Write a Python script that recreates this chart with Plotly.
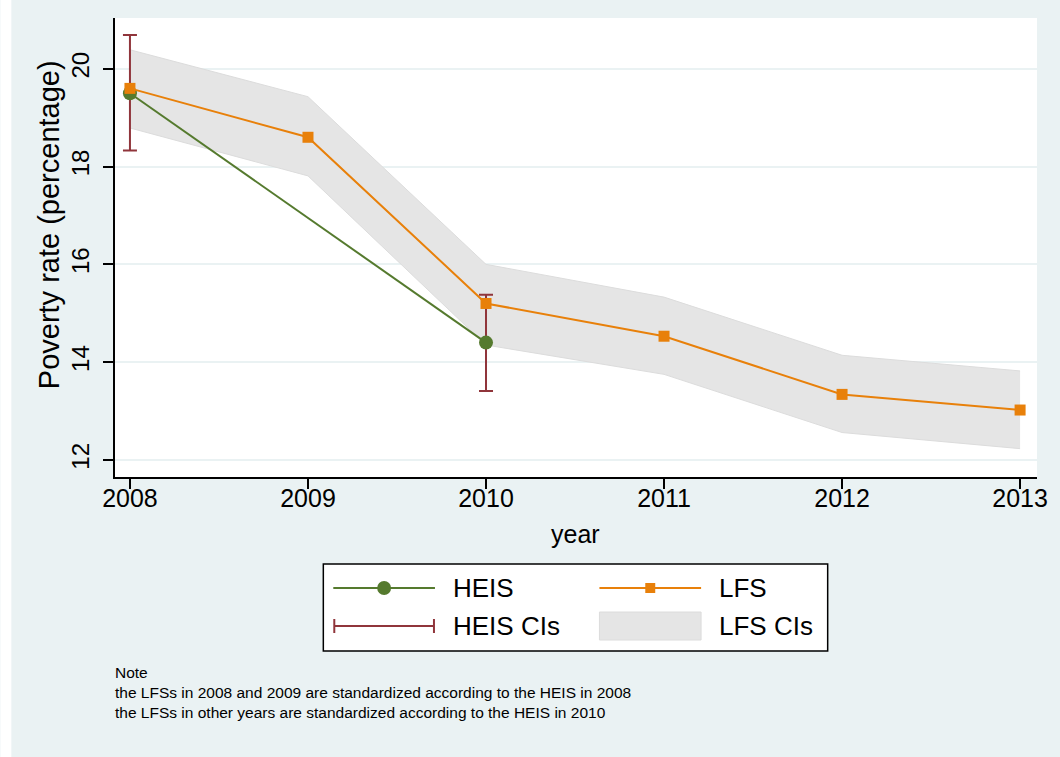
import plotly.graph_objects as go

# --- data -------------------------------------------------------------
years = [2008, 2009, 2010, 2011, 2012, 2013]

heis_years = [2008, 2010]
heis_rate = [19.5, 14.4]
heis_ci_low = [18.33, 13.41]
heis_ci_high = [20.69, 15.38]

lfs_rate = [19.6, 18.6, 15.2, 14.53, 13.34, 13.02]
lfs_ci_low = [18.79, 17.81, 14.35, 13.75, 12.56, 12.23]
lfs_ci_high = [20.39, 19.43, 16.0, 15.33, 14.14, 13.82]

y_ticks = [12, 14, 16, 18, 20]

note_lines = [
    "Note",
    "the LFSs in 2008 and 2009 are standardized according to the HEIS in 2008",
    "the LFSs in other years are standardized according to the HEIS in 2010",
]

# --- styling ----------------------------------------------------------
BG = "#EAF2F3"
GREEN = "#557A2E"
ORANGE = "#E8800A"
MAROON = "#90353B"
BAND = "#E5E5E5"
BAND_EDGE = "#DCDCDC"
FONT = "Liberation Sans, Arial, sans-serif"

W, H = 1060, 757
PL, PR, PT, PB = 115, 1040, 18, 477  # plot area in pixels


def px(x):
    return (x - PL) / (PR - PL)


def py(y):
    return (PB - y) / (PB - PT)


fig = go.Figure()

# LFS confidence band
fig.add_trace(go.Scatter(x=years, y=lfs_ci_high, mode="lines",
                         line=dict(color=BAND_EDGE, width=1),
                         hoverinfo="skip", showlegend=False))
fig.add_trace(go.Scatter(x=years, y=lfs_ci_low, mode="lines",
                         line=dict(color=BAND_EDGE, width=1),
                         fill="tonexty", fillcolor=BAND,
                         hoverinfo="skip", showlegend=False))

# HEIS confidence intervals
fig.add_trace(go.Scatter(
    x=heis_years, y=heis_rate, mode="markers",
    marker=dict(size=1, color="rgba(0,0,0,0)"),
    error_y=dict(type="data", symmetric=False,
                 array=[h - r for h, r in zip(heis_ci_high, heis_rate)],
                 arrayminus=[r - l for r, l in zip(heis_rate, heis_ci_low)],
                 color=MAROON, thickness=2, width=7),
    showlegend=False))

# HEIS point estimates
fig.add_trace(go.Scatter(x=heis_years, y=heis_rate, mode="lines+markers",
                         line=dict(color=GREEN, width=2),
                         marker=dict(symbol="circle", size=14, color=GREEN),
                         showlegend=False))

# LFS point estimates
fig.add_trace(go.Scatter(x=years, y=lfs_rate, mode="lines+markers",
                         line=dict(color=ORANGE, width=2),
                         marker=dict(symbol="square", size=11, color=ORANGE),
                         showlegend=False))

# --- hand-built legend ------------------------------------------------
shapes = [
    # left white strip of the canvas
    dict(type="rect", xref="paper", yref="paper", x0=px(0), x1=px(11),
         y0=py(H), y1=py(0), fillcolor="white", line=dict(width=0),
         layer="below"),
    # legend frame
    dict(type="rect", xref="paper", yref="paper", x0=px(324), x1=px(830),
         y0=py(651), y1=py(564), fillcolor="white",
         line=dict(color="black", width=1.5)),
    # HEIS line
    dict(type="line", xref="paper", yref="paper", x0=px(334), x1=px(436),
         y0=py(588), y1=py(588), line=dict(color=GREEN, width=2)),
    dict(type="circle", xref="paper", yref="paper", x0=px(378), x1=px(392),
         y0=py(595), y1=py(581), fillcolor=GREEN, line=dict(width=0)),
    # LFS line
    dict(type="line", xref="paper", yref="paper", x0=px(601), x1=px(703),
         y0=py(588), y1=py(588), line=dict(color=ORANGE, width=2)),
    dict(type="rect", xref="paper", yref="paper", x0=px(647), x1=px(657),
         y0=py(593), y1=py(583), fillcolor=ORANGE, line=dict(width=0)),
    # HEIS CI bar
    dict(type="line", xref="paper", yref="paper", x0=px(335), x1=px(435),
         y0=py(626), y1=py(626), line=dict(color=MAROON, width=2)),
    dict(type="line", xref="paper", yref="paper", x0=px(335), x1=px(335),
         y0=py(619), y1=py(633), line=dict(color=MAROON, width=2)),
    dict(type="line", xref="paper", yref="paper", x0=px(435), x1=px(435),
         y0=py(619), y1=py(633), line=dict(color=MAROON, width=2)),
    # LFS CI patch
    dict(type="rect", xref="paper", yref="paper", x0=px(601), x1=px(703),
         y0=py(640), y1=py(612), fillcolor=BAND,
         line=dict(color=BAND_EDGE, width=1)),
]

annotations = []
for text, x, y in [("HEIS", 452, 588), ("LFS", 719, 588),
                   ("HEIS CIs", 452, 626), ("LFS CIs", 719, 626)]:
    annotations.append(dict(text=text, x=px(x), y=py(y), xref="paper",
                            yref="paper", xanchor="left", yanchor="middle",
                            showarrow=False,
                            font=dict(family=FONT, size=26, color="black")))

for i, line in enumerate(note_lines):
    annotations.append(dict(text=line, x=px(113), y=py(672 + 20 * i),
                            xref="paper", yref="paper", xanchor="left",
                            yanchor="middle", showarrow=False,
                            font=dict(family=FONT, size=15.5, color="black")))

# axis titles
annotations.append(dict(text="year", x=px(577), y=py(534), xref="paper",
                        yref="paper", xanchor="center", yanchor="middle",
                        showarrow=False,
                        font=dict(family=FONT, size=25, color="black")))
annotations.append(dict(text="Poverty rate (percentage)", x=px(49),
                        y=py(225), xref="paper", yref="paper",
                        xanchor="center", yanchor="middle", textangle=-90,
                        showarrow=False,
                        font=dict(family=FONT, size=29, color="black")))

fig.update_layout(
    width=W, height=H,
    margin=dict(l=PL, r=W - PR, t=PT, b=H - PB, pad=0),
    paper_bgcolor=BG, plot_bgcolor="white",
    font=dict(family=FONT, color="black"),
    showlegend=False,
    shapes=shapes,
    annotations=annotations,
)

fig.update_xaxes(
    range=[2007.916, 2013.095], tickmode="array", tickvals=years,
    ticktext=[str(y) for y in years],
    tickfont=dict(size=25), ticks="outside", ticklen=10, tickwidth=1.5,
    tickcolor="black", showline=True, linecolor="black", linewidth=1.5,
    showgrid=False, zeroline=False, ticklabelstandoff=-12,
)
fig.update_yaxes(
    range=[11.65, 21.04], tickmode="array", tickvals=y_ticks,
    tickfont=dict(size=24), tickangle=-90, ticks="outside", ticklen=10,
    tickwidth=1.5, tickcolor="black", showline=True, linecolor="black",
    linewidth=1.5, showgrid=True, gridcolor=BG, gridwidth=2, zeroline=False,
    ticklabelstandoff=5,
)

fig.write_html("out.html")
